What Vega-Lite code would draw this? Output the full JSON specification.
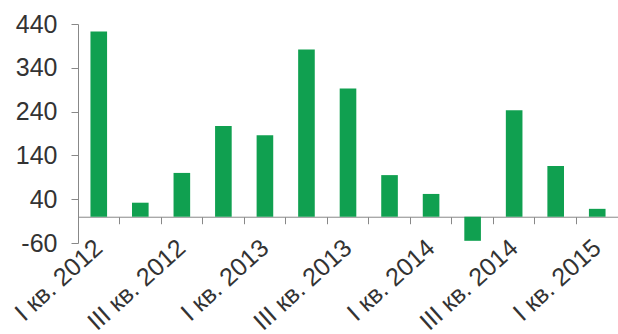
{
  "$schema": "https://vega.github.io/schema/vega-lite/v6.json",
  "width": 540,
  "height": 219,
  "autosize": {"type": "none"},
  "padding": {"left": 78, "top": 24, "right": 0, "bottom": 91},
  "background": "white",
  "config": {"view": {"stroke": null}},
  "data": {
    "values": [
      {"q": "I кв. 2012", "v": 423},
      {"q": "II кв. 2012", "v": 32},
      {"q": "III кв. 2012", "v": 100},
      {"q": "IV кв. 2012", "v": 207},
      {"q": "I кв. 2013", "v": 186},
      {"q": "II кв. 2013", "v": 382},
      {"q": "III кв. 2013", "v": 293},
      {"q": "IV кв. 2013", "v": 95},
      {"q": "I кв. 2014", "v": 52},
      {"q": "II кв. 2014", "v": -55},
      {"q": "III кв. 2014", "v": 243},
      {"q": "IV кв. 2014", "v": 116},
      {"q": "I кв. 2015", "v": 18}
    ]
  },
  "mark": {"type": "bar", "color": "#10a050", "width": {"band": 0.4}},
  "encoding": {
    "x": {
      "field": "q",
      "type": "nominal",
      "sort": null,
      "scale": {"paddingInner": 0, "paddingOuter": 0},
      "axis": {
        "title": null,
        "offset": -26.28,
        "bandPosition": 0,
        "domainColor": "#888888",
        "tickColor": "#888888",
        "tickSize": 7,
        "labelAngle": -42,
        "labelAlign": "right",
        "labelBaseline": "middle",
        "labelPadding": 20,
        "labelFont": "Liberation Sans",
        "labelFontSize": 25,
        "labelColor": "#333333",
        "labelOverlap": false,
        "labelExpr": "test(regexp('^(II|IV) '), datum.label) ? '' : datum.label"
      }
    },
    "y": {
      "field": "v",
      "type": "quantitative",
      "scale": {"domain": [-60, 440], "nice": false, "zero": false},
      "axis": {
        "title": null,
        "values": [-60, 40, 140, 240, 340, 440],
        "grid": false,
        "domainColor": "#888888",
        "tickColor": "#888888",
        "tickSize": 7,
        "labelPadding": 14,
        "labelFont": "Liberation Sans",
        "labelFontSize": 25,
        "labelColor": "#333333",
        "labelExpr": "replace(datum.label, '−', '-')"
      }
    },
    "y2": {"datum": 0}
  }
}
